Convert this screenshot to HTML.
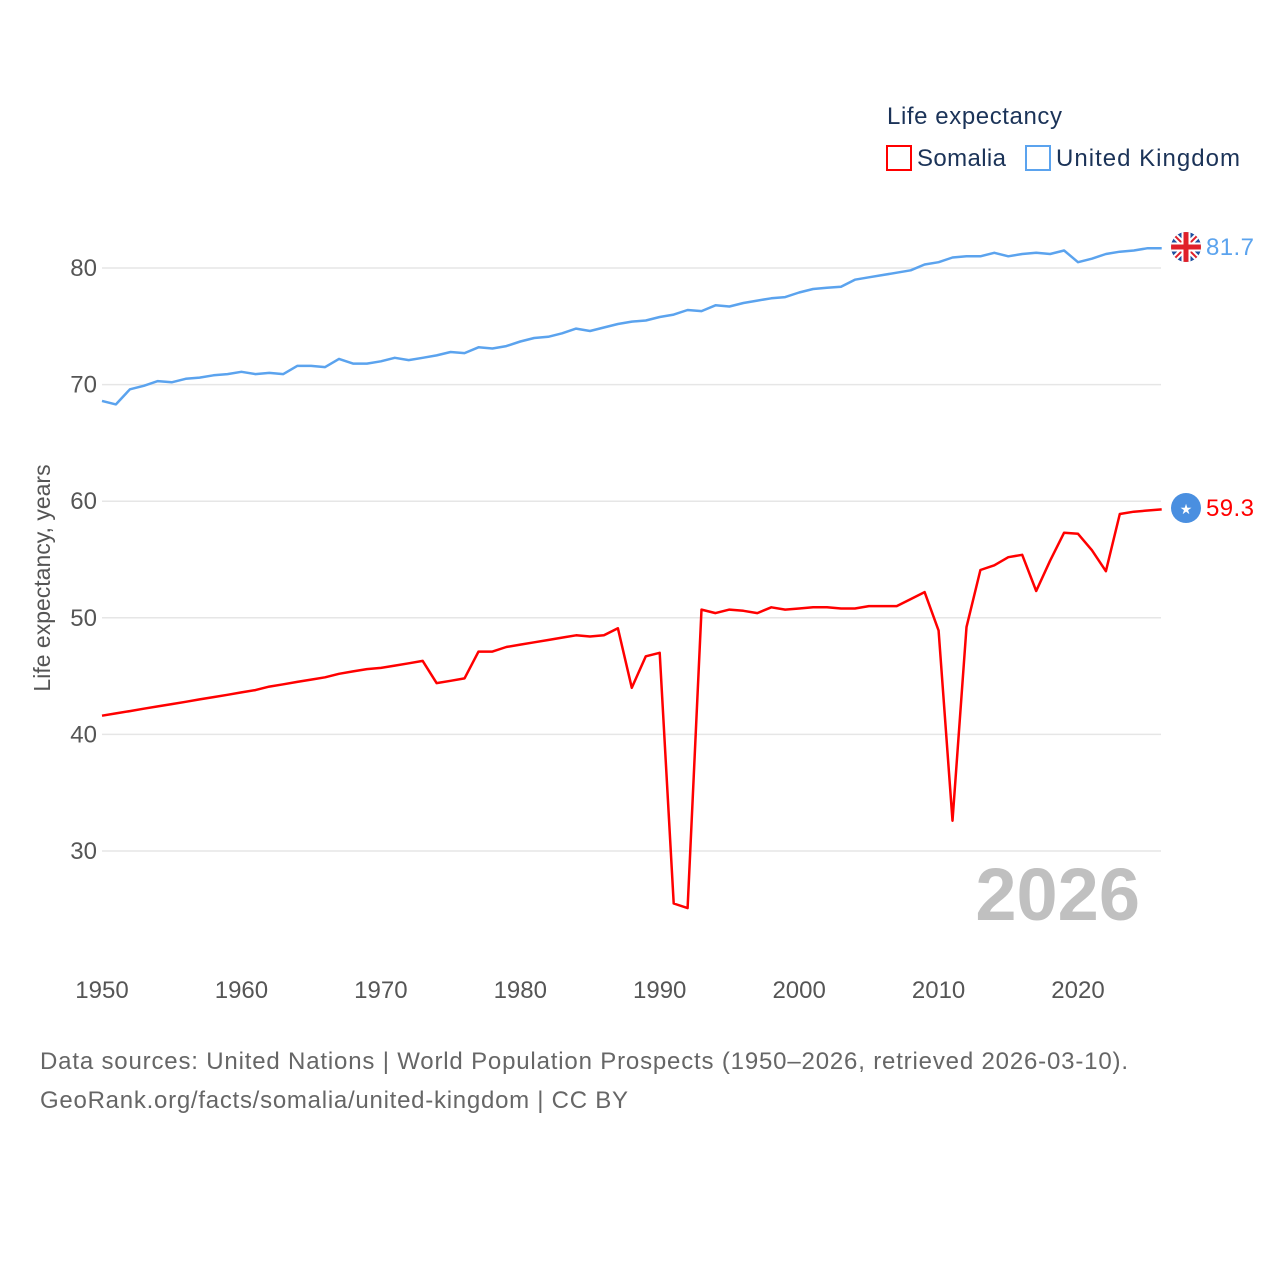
<!DOCTYPE html>
<html><head><meta charset="utf-8"><style>
body{margin:0;background:#fff;font-family:"Liberation Sans",sans-serif;}
svg text{font-family:"Liberation Sans",sans-serif;}
</style></head><body>
<svg id="chart" width="1280" height="1280" viewBox="0 0 1280 1280" xmlns="http://www.w3.org/2000/svg">
<rect width="1280" height="1280" fill="#fff"/>
<g id="grid"></g>
<g id="yticks"></g>
<g id="xticks"></g>
<text x="50" y="578" transform="rotate(-90 50 578)" text-anchor="middle" font-size="23" fill="#555">Life expectancy, years</text>
<text x="1140" y="920" text-anchor="end" font-size="74" font-weight="bold" fill="#c0c0c0">2026</text>
<g>
<text x="887" y="124" font-size="24" fill="#1b3358" textLength="175">Life expectancy</text>
<g><rect x="887" y="146" width="24" height="24" fill="none" stroke="#ff0000" stroke-width="2"/><text x="917" y="166" font-size="24" fill="#1b3358" textLength="89">Somalia</text></g>
<g><rect x="1026" y="146" width="24" height="24" fill="none" stroke="#5ba3ee" stroke-width="2"/><text x="1056" y="166" font-size="24" fill="#1b3358" textLength="184">United Kingdom</text></g>
</g>
<g id="series"></g>
<g>
<clipPath id="cuk"><circle cx="1186" cy="247" r="15"/></clipPath>
<g clip-path="url(#cuk)"><rect x="1170" y="231" width="32" height="32" fill="#1f4fa0"/>
<path d="M1170 231L1202 263M1202 231L1170 263" stroke="#fff" stroke-width="6"/>
<path d="M1170 231L1202 263M1202 231L1170 263" stroke="#e0202a" stroke-width="2"/>
<path d="M1186 231V263M1170 247H1202" stroke="#fff" stroke-width="9"/>
<path d="M1186 231V263M1170 247H1202" stroke="#e0202a" stroke-width="5"/></g></g>
<g><circle cx="1186" cy="508" r="15" fill="#4a8fe0"/><text x="1186" y="514" text-anchor="middle" font-size="14" fill="#fff">★</text></g>
<text x="1206" y="255" font-size="24" fill="#5ba3ee" textLength="48">81.7</text>
<text x="1206" y="516" font-size="24" fill="#ff0000" textLength="48">59.3</text>
<text x="40" y="1069" font-size="24" fill="#666" textLength="1088">Data sources: United Nations | World Population Prospects (1950–2026, retrieved 2026-03-10).</text>
<text x="40" y="1108" font-size="24" fill="#666" textLength="588">GeoRank.org/facts/somalia/united-kingdom | CC BY</text>
</svg>
<script>
const startYear = 1950;
const yTicks = [30, 40, 50, 60, 70, 80];
const xTicks = [1950, 1960, 1970, 1980, 1990, 2000, 2010, 2020];
const somalia = [41.6,41.8,42.0,42.2,42.4,42.6,42.8,43.0,43.2,43.4,43.6,43.8,44.1,44.3,44.5,44.7,44.9,45.2,45.4,45.6,45.7,45.9,46.1,46.3,44.4,44.6,44.8,47.1,47.1,47.5,47.7,47.9,48.1,48.3,48.5,48.4,48.5,49.1,44.0,46.7,47.0,25.5,25.1,50.7,50.4,50.7,50.6,50.4,50.9,50.7,50.8,50.9,50.9,50.8,50.8,51.0,51.0,51.0,51.6,52.2,48.9,32.6,49.2,54.1,54.5,55.2,55.4,52.3,54.9,57.3,57.2,55.8,54.0,58.9,59.1,59.2,59.3];
const uk = [68.6,68.3,69.6,69.9,70.3,70.2,70.5,70.6,70.8,70.9,71.1,70.9,71.0,70.9,71.6,71.6,71.5,72.2,71.8,71.8,72.0,72.3,72.1,72.3,72.5,72.8,72.7,73.2,73.1,73.3,73.7,74.0,74.1,74.4,74.8,74.6,74.9,75.2,75.4,75.5,75.8,76.0,76.4,76.3,76.8,76.7,77.0,77.2,77.4,77.5,77.9,78.2,78.3,78.4,79.0,79.2,79.4,79.6,79.8,80.3,80.5,80.9,81.0,81.0,81.3,81.0,81.2,81.3,81.2,81.5,80.5,80.8,81.2,81.4,81.5,81.7,81.7];
const NS="http://www.w3.org/2000/svg";
const xs = yr => 102 + (yr-1950)*(976/70);
const ys = v => 268 + (80-v)*(583/50);
const grid=document.getElementById('grid'), yt=document.getElementById('yticks'), xt=document.getElementById('xticks'), ser=document.getElementById('series');
yTicks.forEach(v=>{
  const l=document.createElementNS(NS,'line');
  l.setAttribute('x1',102);l.setAttribute('x2',1161);l.setAttribute('y1',ys(v));l.setAttribute('y2',ys(v));
  l.setAttribute('stroke','#e6e6e6');l.setAttribute('stroke-width','1.5');
  
  
  grid.appendChild(l);
  const t=document.createElementNS(NS,'text');
  t.setAttribute('x',97);t.setAttribute('y',ys(v)+8);t.setAttribute('text-anchor','end');
  t.setAttribute('font-size','24');t.setAttribute('fill','#555');t.textContent=v;
  
  
  yt.appendChild(t);
});
xTicks.forEach(yr=>{
  const t=document.createElementNS(NS,'text');
  t.setAttribute('x',xs(yr));t.setAttribute('y',998);t.setAttribute('text-anchor','middle');
  t.setAttribute('font-size','24');t.setAttribute('fill','#555');t.textContent=yr;
  
  
  xt.appendChild(t);
});
function line(data,color,name){
  const p=document.createElementNS(NS,'polyline');
  p.setAttribute('points',data.map((v,i)=>xs(startYear+i).toFixed(1)+','+ys(v).toFixed(1)).join(' '));
  p.setAttribute('fill','none');p.setAttribute('stroke',color);p.setAttribute('stroke-width','2.5');p.setAttribute('stroke-linejoin','round');
  
  
  ser.appendChild(p);
}
line(uk,'#5ba3ee','uk-line');
line(somalia,'#ff0000','somalia-line');
</script>
</body></html>
